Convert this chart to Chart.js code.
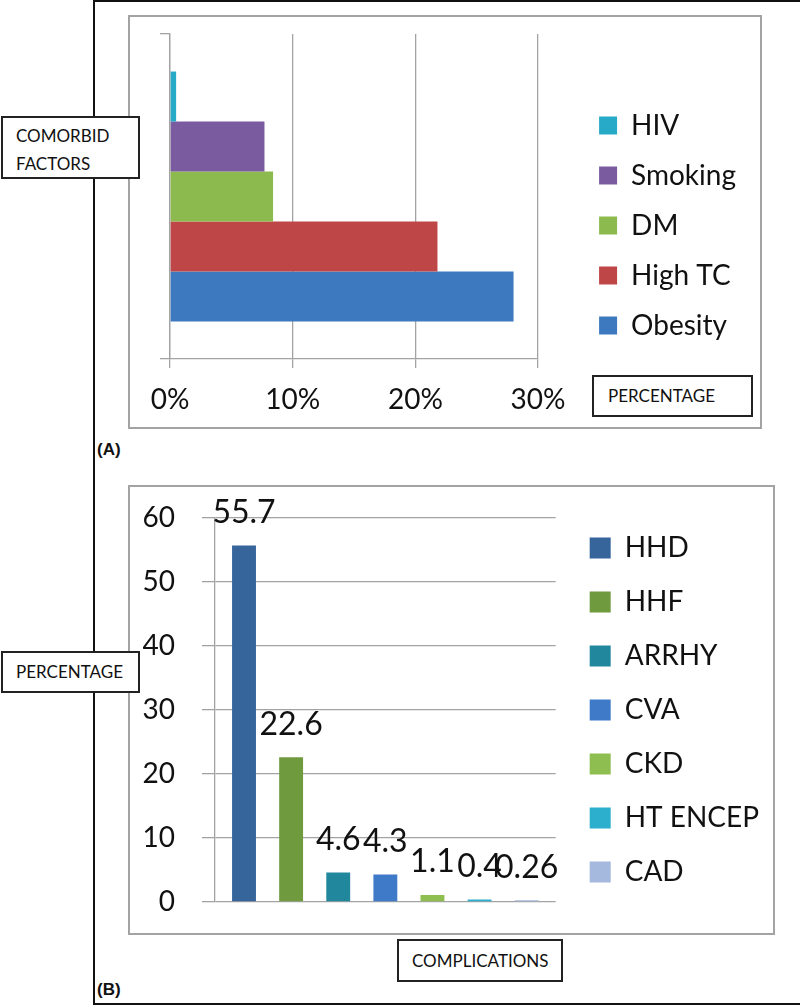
<!DOCTYPE html>
<html>
<head>
<meta charset="utf-8">
<script src="https://cdn.jsdelivr.net/npm/chart.js@4.4.1/dist/chart.umd.min.js"></script>
<style>
  body { margin: 0; background: #fff; font-family: Lato, sans-serif; }
  #page { position: relative; width: 800px; height: 1005px; overflow: hidden; }
  .frame { position: absolute; left: 93px; top: 0; width: 720px; height: 1001px;
           border-left: 2px solid #111; border-top: 2px solid #111; border-bottom: 2px solid #111; }
  .panel { position: absolute; box-sizing: border-box; border: 2px solid #a3a3a3; background: #fff; }
  .panel canvas { display: block; }
  .tag { position: absolute; box-sizing: border-box; border: 2px solid #222; background: #fff;
         font-size: 17px; color: #111; padding-left: 13px; }
  .letter { position: absolute; left: 97px; font: bold 17px "Liberation Sans", Arial, sans-serif; color: #111; }
</style>
</head>
<body>
<div id="page">
  <div class="frame"></div>

  <div class="panel" style="left:128px; top:15px; width:634px; height:414px;">
    <canvas id="chartA" width="630" height="410"></canvas>
  </div>
  <div class="panel" style="left:128px; top:485px; width:647px; height:450px;">
    <canvas id="chartB" width="643" height="446"></canvas>
  </div>

  <div class="tag" style="left:1px; top:116px; width:139px; height:63px; line-height:28px; padding-top:4px;">COMORBID<br>FACTORS</div>
  <div class="tag" style="left:592px; top:375px; width:161px; height:42px; line-height:38px; padding-left:14px;">PERCENTAGE</div>
  <div class="tag" style="left:1px; top:651px; width:139px; height:42px; line-height:38px;">PERCENTAGE</div>
  <div class="tag" style="left:397px; top:939px; width:166px; height:43px; line-height:39px;">COMPLICATIONS</div>

  <div class="letter" style="top:440px;">(A)</div>
  <div class="letter" style="top:980px;">(B)</div>
</div>

<script>
// (A) comorbid factors, percent
const factorNames = ['HIV', 'Smoking', 'DM', 'High TC', 'Obesity'];
const factorValues = [0.5, 7.7, 8.4, 21.8, 28.0];
const factorColors = ['#27a9c8', '#7a5ba0', '#8cba4e', '#bf4646', '#3d79be'];
const percentTicks = [0, 10, 20, 30];

// (B) complications, percent
const complicationNames = ['HHD', 'HHF', 'ARRHY', 'CVA', 'CKD', 'HT ENCEP', 'CAD'];
const complicationValues = [55.7, 22.6, 4.6, 4.3, 1.1, 0.4, 0.26];
const complicationColors = ['#35659a', '#6f9a3e', '#21879c', '#3e7ac8', '#8dbe4f', '#2bafcc', '#a5b8dd'];
const countTicks = [0, 10, 20, 30, 40, 50, 60];

const gridGrey = '#a3a3a3';

// empty axis used only to reserve space
function spacer(axis, position, size) {
  return {
    axis: axis, type: 'linear', position: position,
    grid: { display: false }, ticks: { display: false }, border: { display: false },
    afterFit: s => { if (axis === 'y') s.width = size; else s.height = size; }
  };
}

const valueLabels = {
  id: 'valueLabels',
  afterDatasetsDraw(chart) {
    const ctx = chart.ctx;
    ctx.save();
    ctx.font = '32px Lato';
    ctx.fillStyle = '#111';
    ctx.textAlign = 'center';
    ctx.textBaseline = 'middle';
    chart.data.datasets.forEach((ds, i) => {
      chart.getDatasetMeta(i).data.forEach((bar, j) => {
        ctx.fillText(String(ds.data[j]), bar.x, bar.y - 33);
      });
    });
    ctx.restore();
  }
};

function drawCharts() {
  Chart.defaults.font.family = 'Lato';
  Chart.defaults.color = '#111';

  new Chart(document.getElementById('chartA'), {
    type: 'bar',
    data: {
      labels: [''],
      datasets: factorNames.map((name, i) => ({
        label: name,
        data: [factorValues[i]],
        backgroundColor: factorColors[i],
        borderWidth: 0,
        categoryPercentage: 0.769,
        barPercentage: 1
      }))
    },
    options: {
      indexAxis: 'y',
      responsive: false,
      animation: false,
      layout: { padding: { left: 30, top: 17, right: 14, bottom: 10 } },
      plugins: {
        legend: {
          position: 'right',
          maxWidth: 300,
          labels: { boxWidth: 18, boxHeight: 18, padding: 22, font: { size: 28 } }
        },
        tooltip: { enabled: false }
      },
      scales: {
        x: {
          min: percentTicks[0],
          max: percentTicks[percentTicks.length - 1],
          afterBuildTicks: s => { s.ticks = percentTicks.map(v => ({ value: v })); },
          ticks: { callback: v => v + '%', padding: 15, font: { size: 28 } },
          grid: { color: gridGrey, lineWidth: 1.3, tickLength: 9 },
          border: { color: gridGrey, width: 1.3 },
          afterFit: s => { s.height = 58; s.paddingLeft = 0; }
        },
        y: {
          grid: { drawOnChartArea: false, tickLength: 10, color: gridGrey, lineWidth: 1.3 },
          ticks: { display: false },
          border: { color: gridGrey, width: 1.3 }
        },
        gap: spacer('y', 'right', 39)
      }
    }
  });

  new Chart(document.getElementById('chartB'), {
    type: 'bar',
    data: {
      labels: [''],
      datasets: complicationNames.map((name, i) => ({
        label: name,
        data: [complicationValues[i]],
        backgroundColor: complicationColors[i],
        borderWidth: 0,
        categoryPercentage: 0.968,
        barPercentage: 0.507
      }))
    },
    options: {
      responsive: false,
      animation: false,
      layout: { padding: { left: 13, top: 0, right: 4, bottom: 0 } },
      plugins: {
        legend: {
          position: 'right',
          maxWidth: 300,
          labels: { boxWidth: 21, boxHeight: 21, padding: 26, font: { size: 28 } }
        },
        tooltip: { enabled: false }
      },
      scales: {
        x: {
          grid: { display: false }, ticks: { display: false }, border: { display: false },
          afterFit: s => { s.height = 31; }
        },
        y: {
          min: countTicks[0],
          max: countTicks[countTicks.length - 1],
          afterBuildTicks: s => { s.ticks = countTicks.map(v => ({ value: v })); },
          ticks: { padding: 27, font: { size: 28 } },
          grid: { color: gridGrey, lineWidth: 1.3, tickLength: 13 },
          border: { color: gridGrey, width: 1.3 },
          afterFit: s => { s.width = 72; s.paddingTop = 17; s.paddingBottom = 17; }
        },
        gapTop: spacer('x', 'top', 31),
        gap: spacer('y', 'right', 8)
      }
    },
    plugins: [valueLabels]
  });
}

document.fonts.load('28px Lato').then(drawCharts, drawCharts);
</script>
</body>
</html>
